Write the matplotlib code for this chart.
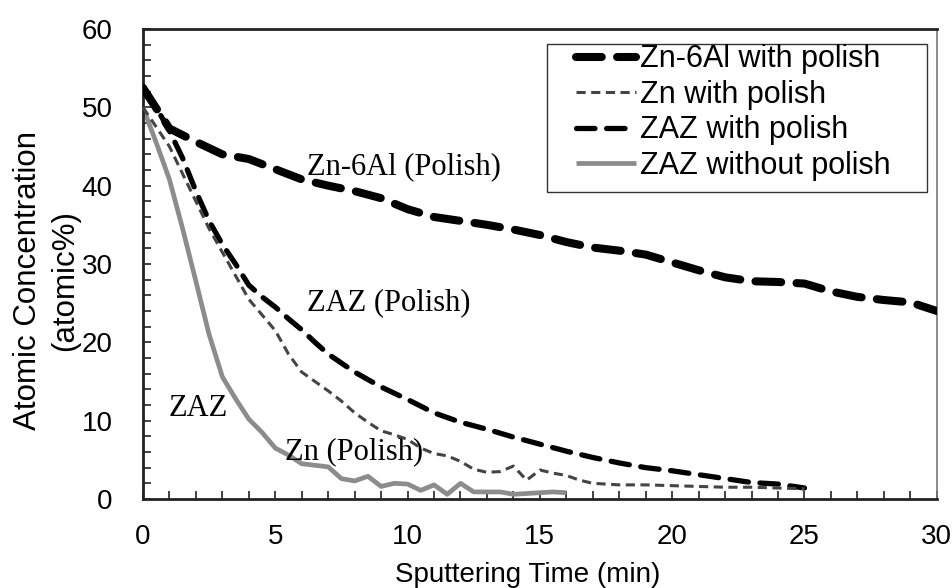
import matplotlib
matplotlib.use("Agg")
import matplotlib.pyplot as plt
from matplotlib.ticker import MultipleLocator
from matplotlib.patches import Rectangle

# Depth profiles: sputtering time (min) vs atomic concentration (atomic %)
t_zn6al = [0, 1, 2, 3, 4, 5, 6, 7, 8, 9, 10, 11, 12, 13, 14, 15, 16, 17, 18, 19, 20,
           21, 22, 23, 24, 25, 26, 27, 28, 29, 30]
c_zn6al = [52.5, 47.3, 45.6, 44.0, 43.4, 42.1, 40.8, 40.0, 39.3, 38.4, 37.0, 36.0, 35.5,
           35.0, 34.4, 33.7, 32.8, 32.1, 31.7, 31.2, 30.2, 29.2, 28.3, 27.8, 27.7, 27.5,
           26.5, 25.8, 25.4, 25.1, 24.0]

t_zn = [0, 1, 1.5, 2, 2.5, 3, 3.5, 4, 4.5, 5, 5.5, 6, 6.5, 7, 7.5, 8, 8.5, 9, 9.5, 10,
        10.5, 11, 11.5, 12, 12.5, 13, 13.5, 14, 14.5, 15, 15.5, 16, 16.5, 17, 18, 19, 20,
        21, 22, 23, 24, 25]
c_zn = [50.0, 45.0, 41.5, 38.0, 34.5, 31.5, 28.5, 25.5, 23.5, 21.5, 18.5, 16.2, 15.0,
        13.8, 12.5, 11.0, 9.8, 8.7, 8.2, 7.6, 6.5, 5.8, 5.5, 4.8, 3.8, 3.4, 3.5, 4.2, 2.4,
        3.7, 3.3, 3.0, 2.4, 2.0, 1.8, 1.8, 1.7, 1.6, 1.5, 1.5, 1.4, 1.3]

t_zaz = [0, 0.5, 1, 1.5, 2, 2.5, 3, 3.5, 4, 4.5, 5, 5.5, 6, 6.5, 7, 8, 9, 10, 11, 12, 13,
         14, 15, 16, 17, 18, 19, 20, 21, 22, 23, 24, 25]
c_zaz = [52.0, 50.0, 47.0, 43.5, 39.3, 35.5, 32.5, 30.0, 27.3, 25.8, 24.5, 23.0, 21.6,
         20.0, 18.5, 16.2, 14.3, 12.7, 11.0, 9.8, 8.9, 7.9, 7.0, 6.1, 5.3, 4.6, 4.0, 3.6,
         3.1, 2.6, 2.1, 1.9, 1.4]

t_zaz_np = [0, 0.5, 1, 1.5, 2, 2.5, 3, 3.5, 4, 4.5, 5, 5.5, 6, 6.5, 7, 7.5, 8, 8.5, 9,
            9.5, 10, 10.5, 11, 11.5, 12, 12.5, 13, 13.5, 14, 14.5, 15, 15.5, 16]
c_zaz_np = [50.0, 45.5, 40.8, 34.5, 27.8, 21.0, 15.6, 12.8, 10.2, 8.5, 6.5, 5.6, 4.5,
            4.3, 4.1, 2.6, 2.3, 2.9, 1.6, 2.0, 1.9, 1.1, 1.8, 0.6, 2.0, 0.9, 0.9, 0.9, 0.6,
            0.7, 0.8, 0.9, 0.8]

legend_labels = ["Zn-6Al with polish", "Zn with polish", "ZAZ with polish",
                 "ZAZ without polish"]
x_ticks = [0, 5, 10, 15, 20, 25, 30]
y_ticks = [0, 10, 20, 30, 40, 50, 60]

sans = "Liberation Sans"
serif = "Liberation Serif"

fig = plt.figure(figsize=(9.53, 5.88), dpi=100)
ax = fig.add_axes([0.150, 0.1514, 0.833, 0.7993])

ax.plot(t_zn6al, c_zn6al, color="black", lw=5.8, dashes=(3.2, 1.9),
        dash_capstyle="round", label=legend_labels[0], zorder=3)
ax.plot(t_zn, c_zn, color="#444444", lw=2.2, dashes=(3.0, 1.8),
        dash_capstyle="butt", label=legend_labels[1], zorder=4)
ax.plot(t_zaz, c_zaz, color="black", lw=3.8, dashes=(3.5, 2.2),
        dash_capstyle="round", label=legend_labels[2], zorder=3)
ax.plot(t_zaz_np, c_zaz_np, color="#8c8c8c", lw=3.4, solid_capstyle="butt",
        label=legend_labels[3], zorder=2)

ax.set_xlim(0, 30)
ax.set_ylim(0, 60)
ax.set_xticks(x_ticks)
ax.set_yticks(y_ticks)
ax.xaxis.set_minor_locator(MultipleLocator(1))
ax.yaxis.set_minor_locator(MultipleLocator(2))
ax.tick_params(which="both", direction="in", length=6, width=1.2, color="#222222",
               top=False, right=False)
ax.tick_params(axis="x", which="major", pad=18)
ax.tick_params(axis="y", which="major", pad=22)
for lab in ax.get_xticklabels() + ax.get_yticklabels():
    lab.set_fontfamily(sans)
    lab.set_fontsize(20)

for side in ["left", "bottom", "top"]:
    ax.spines[side].set_linewidth(2.0)
    ax.spines[side].set_color("#222222")
ax.spines["right"].set_linewidth(1.2)
ax.spines["right"].set_color("#777777")

ax.set_xlabel("Sputtering Time (min)", fontfamily=sans, fontsize=20)
ax.xaxis.set_label_coords(0.485, -0.162)
ax.xaxis.label.set_verticalalignment("center")
fig.text(46.5 / 953, 1 - 281 / 588, "Atomic Concentration\n(atomic%)",
         fontfamily=sans, fontsize=22.5, rotation=90, rotation_mode="anchor",
         ha="center", va="center", multialignment="center", linespacing=1.3)

ax.text(6.2, 42.4, "Zn-6Al (Polish)", fontfamily=serif, fontsize=22, va="center",
        ha="left")
ax.text(6.2, 25.0, "ZAZ (Polish)", fontfamily=serif, fontsize=22, va="center", ha="left")
ax.text(0.95, 11.6, "ZAZ", fontfamily=serif, fontsize=22, va="center", ha="left")
ax.text(5.36, 6.0, "Zn (Polish)", fontfamily=serif, fontsize=22, va="center", ha="left")

leg = ax.legend(loc="upper left", bbox_to_anchor=(0.546, 0.967), borderaxespad=0,
                prop={"family": sans, "size": 22}, handlelength=1.95,
                handletextpad=0.14, labelspacing=0.18, borderpad=0.0, frameon=False)
ax.add_patch(Rectangle((0.5088, 0.6532), 0.9874 - 0.5088, 0.9681 - 0.6532,
                       transform=ax.transAxes, facecolor="white", edgecolor="#333333",
                       lw=1.0, zorder=5))
leg.set_zorder(6)

fig.savefig("out.png", dpi=100)
